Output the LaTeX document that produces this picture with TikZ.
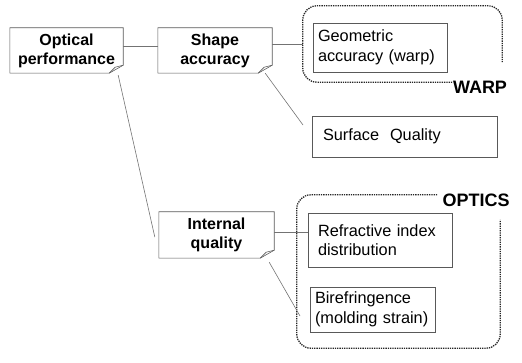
\documentclass[tikz,border=0pt]{standalone}
\usepackage{fontspec}
\setmainfont{Liberation Sans}
\begin{document}
\begin{tikzpicture}[x=1pt,y=-1pt,
  boxline/.style={draw=black!65,line width=0.6pt},
  conn/.style={draw=black!55,line width=0.6pt},
  grp/.style={draw=black!85,line width=1.3pt,densely dotted,rounded corners=14pt},
  mainbox/.style={draw=none,align=center,inner sep=0pt,font=\fontsize{16}{19}\selectfont\bfseries},
  leafbox/.style={boxline,align=left,inner ysep=0pt,font=\fontsize{16.3}{19.5}\selectfont},
  grplbl/.style={inner sep=0pt,font=\fontsize{18}{20}\selectfont\bfseries}
]
\useasboundingbox (0,0) rectangle (522,363);

% main boxes (outline drawn with folded corner)
\node[mainbox,minimum width=113pt,minimum height=45pt] (op) at (66.5,50.5) {Optical\\performance};
\node[mainbox,minimum width=114pt,minimum height=45pt] (sa) at (215,50.5) {Shape\\accuracy};
\node[mainbox,minimum width=115pt,minimum height=46pt] (iq) at (216.5,235) {Internal\\quality};

\foreach \n in {op,sa,iq}{
  \draw[boxline] (\n.north west) -- (\n.north east) -- ([yshift=8pt]\n.south east)
    -- ([xshift=-14pt]\n.south east) -- (\n.south west) -- cycle;
  \draw[boxline] ([xshift=-14pt]\n.south east) -- ([xshift=-8pt,yshift=6pt]\n.south east)
    -- ([yshift=8pt]\n.south east);
}

% leaf boxes
\node[leafbox,minimum width=134pt,minimum height=49pt,text width=124pt,inner xsep=5pt] (geo) at (380,47.5) {Geometric\\accuracy (warp)};
\node[leafbox,minimum width=185pt,minimum height=41pt,text width=163pt,inner xsep=11pt] (sf) at (404.5,136.5) {Surface\ \ Quality};
\node[leafbox,minimum width=144pt,minimum height=54pt,text width=124pt,inner xsep=10pt] (rf) at (380,240) {Refractive index\\distribution};
\node[leafbox,minimum width=125pt,minimum height=45pt,text width=115pt,inner xsep=5pt] (bf) at (372.5,309.5) {Birefringence\\(molding strain)};

% groups
\node[draw=none,minimum width=199pt,minimum height=76pt,inner sep=0pt] (warp) at (402.5,44) {};
\node[draw=none,minimum width=203pt,minimum height=153pt,inner sep=0pt] (optics) at (398.5,271.5) {};
\draw[grp] ([xshift=-50pt]warp.south east) -- (warp.south west) -- (warp.north west)
  -- (warp.north east) -- ([yshift=20pt]warp.south east);
\draw[grp] ([xshift=-63pt]optics.north east) -- (optics.north west) -- (optics.south west)
  -- (optics.south east) -- ([yshift=-25pt]optics.north east);
\node[grplbl] (warplbl) at (480,87) {WARP};
\node[grplbl] (opticslbl) at (476,200) {OPTICS};

% connectors
\coordinate (sfin) at (303,125);
\coordinate (bfin) at (300,316);
\draw[conn] ([yshift=4pt]op.east) -- ([yshift=4pt]sa.west);
\draw[conn] (sa.east |- warp.west) -- (warp.west);
\draw[conn] ([xshift=-7pt]sa.south east) -- (sfin);
\draw[conn] ([xshift=-5pt,yshift=-2pt]op.south east) -- ([xshift=-4pt,yshift=-2pt]iq.west);
\draw[conn] ([yshift=3pt]iq.east) -- ([yshift=3pt]iq.east -| rf.west);
\draw[conn] ([xshift=-5pt,yshift=-4pt]iq.south east) -- (bfin);
\end{tikzpicture}
\end{document}
